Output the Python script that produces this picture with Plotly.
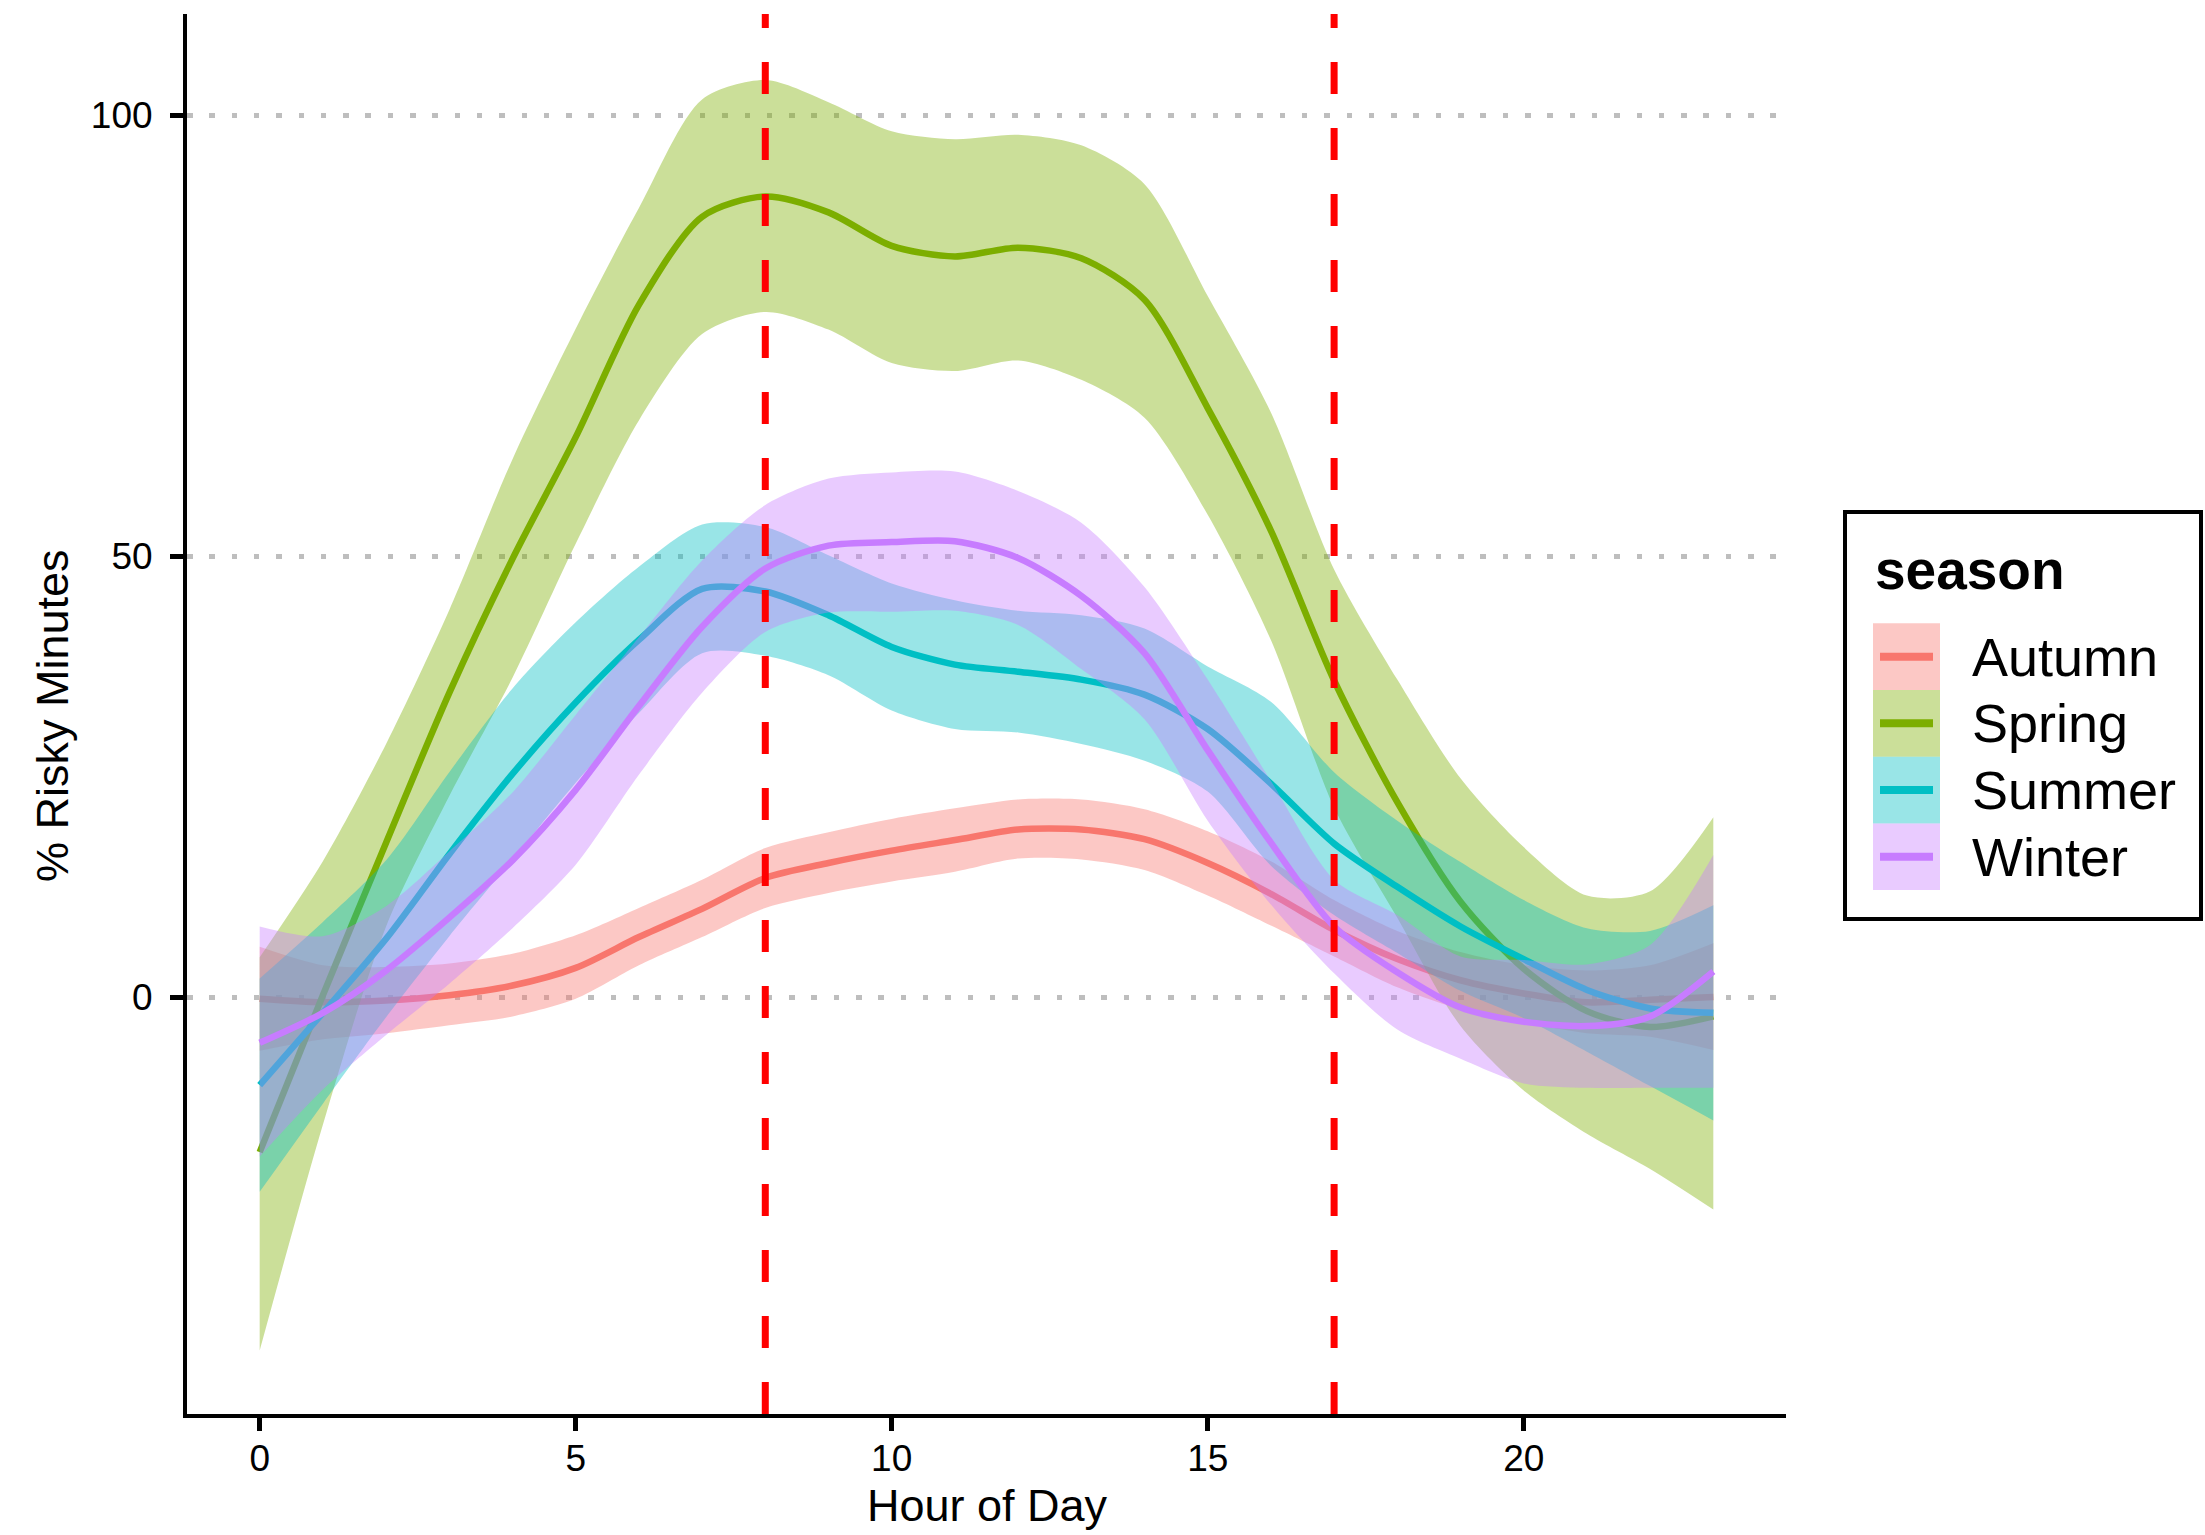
import plotly.graph_objects as go

# ---------------- data ----------------
hours = list(range(24))
seasons = ["Autumn", "Spring", "Summer", "Winter"]
season_colors = ["#F8766D", "#7CAE00", "#00BFC4", "#C77CFF"]

autumn_mean = [-0.2, -0.6, -0.4, 0.2, 1.3, 3.3, 6.8, 10.0, 13.5, 15.2, 16.6, 17.8,
               19.0, 19.0, 17.9, 15.2, 11.7, 7.6, 4.3, 1.9, 0.4, -0.6, -0.3, 0.0]
autumn_upper = [5.7, 3.6, 3.4, 3.8, 4.9, 7.0, 10.1, 13.3, 16.9, 18.7, 20.2, 21.4,
                22.4, 22.4, 21.3, 18.8, 15.4, 11.0, 7.5, 5.1, 3.6, 3.0, 3.6, 6.1]
autumn_lower = [-6.1, -4.8, -4.1, -3.2, -2.2, -0.2, 3.6, 6.8, 10.1, 11.8, 13.1, 14.2,
                15.7, 15.6, 14.4, 11.5, 8.1, 4.6, 1.1, -1.4, -2.9, -4.1, -4.5, -6.0]

spring_mean = [-17.6, 0.2, 17.5, 34.5, 49.7, 63.5, 78.5, 88.5, 90.8, 89.0, 85.2, 84.0,
               85.0, 83.8, 79.1, 66.8, 52.9, 35.9, 22.1, 10.8, 3.2, -1.6, -3.4, -2.2]
spring_upper = [4.5, 15.4, 28.7, 43.9, 61.0, 75.8, 89.5, 101.8, 104.0, 101.5, 98.2, 97.3,
                97.8, 96.6, 92.2, 79.5, 66.3, 48.5, 36.0, 24.8, 17.0, 11.5, 12.0, 20.4]
spring_lower = [-40.1, -14.5, 8.0, 22.8, 36.2, 51.4, 65.4, 75.2, 77.7, 75.7, 71.9, 71.0,
                72.2, 70.0, 65.7, 54.7, 40.5, 21.5, 9.0, -3.3, -10.6, -15.5, -19.5, -24.1]

summer_mean = [-10.0, -1.8, 6.6, 16.2, 25.3, 33.4, 40.5, 46.3, 46.0, 43.3, 39.7, 37.7,
               36.9, 36.0, 34.3, 30.4, 24.2, 17.4, 12.5, 8.0, 4.3, 0.8, -1.3, -1.8]
summer_upper = [2.1, 8.5, 15.5, 25.5, 35.0, 42.5, 48.8, 53.6, 53.3, 50.1, 46.9, 45.0,
                43.8, 43.3, 41.8, 37.5, 33.5, 25.5, 20.0, 15.3, 11.0, 7.8, 7.5, 10.4]
summer_lower = [-22.1, -12.1, -2.3, 6.9, 15.6, 24.3, 32.2, 39.0, 38.7, 36.5, 32.5, 30.4,
                30.0, 28.7, 26.8, 23.3, 14.9, 9.3, 5.0, 0.7, -2.4, -6.2, -10.1, -14.0]

winter_mean = [-5.2, -1.8, 3.0, 9.0, 15.5, 23.5, 33.0, 42.0, 48.6, 51.2, 51.6, 51.7,
               49.8, 45.5, 39.0, 28.0, 17.5, 8.0, 2.8, -1.2, -2.8, -3.3, -2.2, 2.9]
winter_upper = [8.0, 6.9, 10.3, 16.5, 23.2, 32.0, 40.8, 49.5, 55.8, 58.8, 59.5, 59.6,
                57.4, 53.8, 46.5, 36.0, 24.5, 13.3, 9.3, 4.6, 4.2, 3.7, 5.9, 16.1]
winter_lower = [-18.1, -10.5, -4.3, 1.5, 7.8, 15.0, 25.2, 34.5, 41.4, 43.6, 43.7, 43.8,
                42.2, 37.2, 31.5, 20.0, 10.5, 2.7, -3.7, -7.0, -9.8, -10.3, -10.3, -10.3]

work_hours = [8, 17]
x_ticks = [0, 5, 10, 15, 20]
y_ticks = [0, 50, 100]

means = [autumn_mean, spring_mean, summer_mean, winter_mean]
uppers = [autumn_upper, spring_upper, summer_upper, winter_upper]
lowers = [autumn_lower, spring_lower, summer_lower, winter_lower]

FONT = "Liberation Sans, Arial, Helvetica, sans-serif"


def rgba(hex_color, a):
    h = hex_color.lstrip("#")
    r, g, b = int(h[0:2], 16), int(h[2:4], 16), int(h[4:6], 16)
    return f"rgba({r},{g},{b},{a})"


fig = go.Figure()
for name, col, m, up, lo in zip(seasons, season_colors, means, uppers, lowers):
    fig.add_trace(go.Scatter(x=hours, y=lo, mode="lines",
                             line=dict(width=0, shape="spline", smoothing=0.8),
                             showlegend=False, hoverinfo="skip"))
    fig.add_trace(go.Scatter(x=hours, y=up, mode="lines",
                             line=dict(width=0, shape="spline", smoothing=0.8),
                             fill="tonexty", fillcolor=rgba(col, 0.4),
                             showlegend=False, hoverinfo="skip"))
    fig.add_trace(go.Scatter(x=hours, y=m, mode="lines", name=name,
                             line=dict(color=col, width=6.5, shape="spline", smoothing=0.8),
                             showlegend=False))

for h in work_hours:
    fig.add_shape(type="line", xref="x", yref="paper", x0=h, x1=h, y0=0, y1=1,
                  line=dict(color="#FF0000", width=7, dash="32px,34px"), layer="above")

# ---------------- layout geometry (pixels) ----------------
W, H = 2205, 1535
PL, PR, PT, PB = 187, 1786, 14, 1414


def px(X):
    return (X - PL) / (PR - PL)


def py(Y):
    return (PB - Y) / (PB - PT)


fig.update_layout(
    width=W, height=H,
    margin=dict(l=PL, r=W - PR, t=PT, b=H - PB, pad=0),
    plot_bgcolor="white", paper_bgcolor="white",
    showlegend=False,
    font=dict(family=FONT, color="black"),
)
fig.update_xaxes(range=[-1.15, 24.15], tickvals=x_ticks, ticktext=[str(t) for t in x_ticks],
                 showgrid=False, zeroline=False, showline=True, linecolor="black", linewidth=4,
                 ticks="outside", ticklen=13, tickwidth=4.5, tickcolor="black",
                 ticklabelstandoff=-4,
                 tickfont=dict(size=37, family=FONT, color="black"))
fig.update_yaxes(range=[-47.3, 111.5], tickvals=y_ticks, ticktext=[str(t) for t in y_ticks],
                 showgrid=True, gridcolor="#BEBEBE", gridwidth=5, griddash="5.5px,16.8px",
                 zeroline=False, showline=True, linecolor="black", linewidth=4,
                 ticks="outside", ticklen=13, tickwidth=4.5, tickcolor="black",
                 ticklabelstandoff=10,
                 tickfont=dict(size=37, family=FONT, color="black"))

# axis titles
fig.add_annotation(text="Hour of Day", xref="paper", yref="paper", x=px(987), y=py(1505),
                   xanchor="center", yanchor="middle", showarrow=False,
                   font=dict(size=45, family=FONT, color="black"))
fig.add_annotation(text="% Risky Minutes", xref="paper", yref="paper", x=px(52), y=py(716),
                   xanchor="center", yanchor="middle", showarrow=False, textangle=-90,
                   font=dict(size=45, family=FONT, color="black"))

# ---------------- manual legend (ggplot style) ----------------
fig.add_shape(type="rect", xref="paper", yref="paper",
              x0=px(1845), x1=px(2201), y0=py(512), y1=py(919),
              line=dict(color="black", width=4), fillcolor="white", layer="above")
fig.add_annotation(text="<b>season</b>", xref="paper", yref="paper", x=px(1873), y=py(570),
                   xanchor="left", yanchor="middle", showarrow=False,
                   font=dict(size=55, family=FONT, color="black"))
row_top = 623.3
row_h = 66.7
for i, (name, col) in enumerate(zip(seasons, season_colors)):
    y0 = row_top + i * row_h
    yc = y0 + row_h / 2
    fig.add_shape(type="rect", xref="paper", yref="paper",
                  x0=px(1873), x1=px(1940), y0=py(y0), y1=py(y0 + row_h),
                  line=dict(width=0), fillcolor=rgba(col, 0.4), layer="above")
    fig.add_shape(type="line", xref="paper", yref="paper",
                  x0=px(1880), x1=px(1933), y0=py(yc), y1=py(yc),
                  line=dict(color=col, width=8), layer="above")
    fig.add_annotation(text=name, xref="paper", yref="paper", x=px(1970), y=py(yc),
                       xanchor="left", yanchor="middle", showarrow=False,
                       font=dict(size=54, family=FONT, color="black"))

fig.write_html("out.html", config={"displayModeBar": False},
               post_script="document.body.style.margin='0';")
